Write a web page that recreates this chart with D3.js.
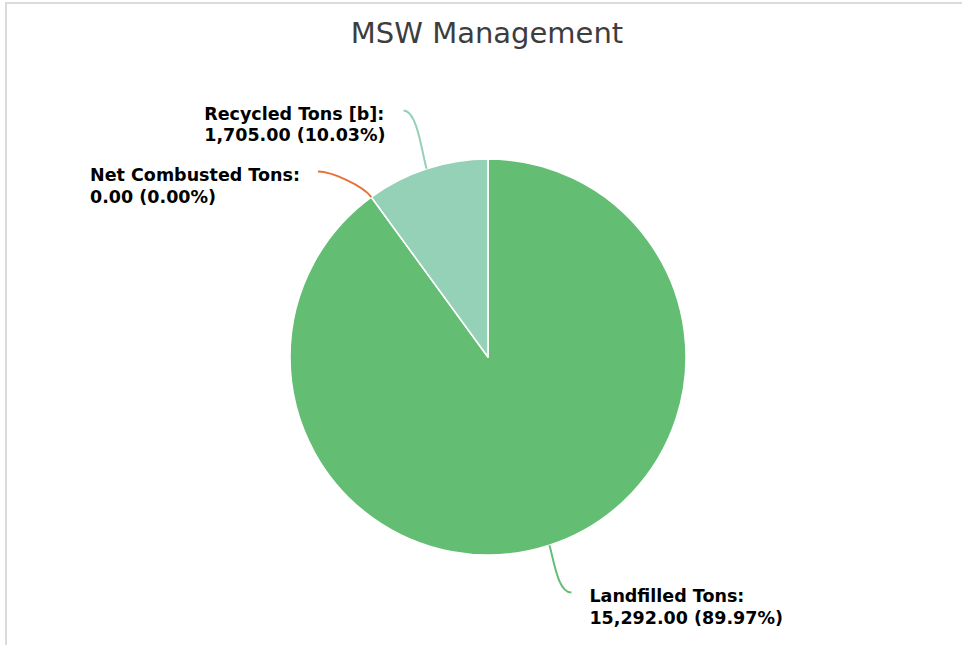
<!DOCTYPE html>
<html>
<head>
<meta charset="utf-8">
<script src="https://cdn.jsdelivr.net/npm/d3@7"></script>
<style>
	body { margin: 0; background: #fff; }
	svg { display: block; }
</style>
</head>
<body>
<svg class="piechart"></svg>
<script>
var categories = ["Landfilled Tons:", "Net Combusted Tons:", "Recycled Tons [b]:"];
var tons = [15292, 0, 1705];
var colors = ["#63be74", "#e8733a", "#95d1b6"];

var width = 962;
var height = 645;
var cx = 488, cy = 357, radius = 198;

// nudges for the end of each leader line (layout only)
var labelNudge = [[5, -5], [-21, 19], [-6, -6]];

var svg = d3.select(".piechart")
	.attr("width", width)
	.attr("height", height);

// frame
svg.append("rect")
	.attr("x", 6)
	.attr("y", 3)
	.attr("width", width + 20)
	.attr("height", height + 20)
	.attr("fill", "none")
	.attr("stroke", "#dadada")
	.attr("stroke-width", 2);

svg.append("text")
	.attr("x", 487)
	.attr("y", 43)
	.attr("text-anchor", "middle")
	.style("font-family", "DejaVu Sans")
	.style("font-size", "29px")
	.attr("fill", "#3d3d3d")
	.text("MSW Management");

var total = d3.sum(tons);
var fmt = d3.format(",.2f");

var pie = d3.pie().sort(null).value(function(d) { return d; });
var arcs = pie(tons);

var arc = d3.arc().innerRadius(0).outerRadius(radius);

var g = svg.append("g").attr("transform", "translate(" + cx + "," + cy + ")");

g.selectAll("path.slice")
	.data(arcs)
	.enter()
	.append("path")
		.attr("class", "slice")
		.attr("d", arc)
		.attr("fill", function(d, i) { return colors[i]; })
		.attr("stroke", "#fff")
		.attr("stroke-width", 1.5)
		.attr("stroke-linejoin", "round");

function midAngle(d) { return (d.startAngle + d.endAngle) / 2; }

arcs.forEach(function(d, i) {
	var a = midAngle(d);
	var dx = Math.sin(a), dy = -Math.cos(a);
	var p0 = [dx * radius, dy * radius];
	var p3 = [dx * (radius + 55) + labelNudge[i][0], dy * (radius + 55) + labelNudge[i][1]];
	var right = dx > 0;
	var p1 = [p0[0] + dx * 14, p0[1] + dy * 14];
	var p2 = [p3[0] + (right ? -14 : 14), p3[1]];

	var path = d3.path();
	path.moveTo(p0[0], p0[1]);
	path.bezierCurveTo(p1[0], p1[1], p2[0], p2[1], p3[0], p3[1]);

	g.append("path")
		.attr("d", path.toString())
		.attr("fill", "none")
		.attr("stroke", colors[i])
		.attr("stroke-width", 2);

	var pct = total ? tons[i] / total * 100 : 0;
	var label = g.append("text")
		.style("font-family", "DejaVu Sans")
		.style("font-weight", "bold")
		.style("font-size", "17.5px")
		.attr("fill", "#000");

	label.append("tspan").attr("x", 0).attr("y", 0).text(categories[i]);
	label.append("tspan").attr("x", 0).attr("y", 21.5)
		.text(fmt(tons[i]) + " (" + pct.toFixed(2) + "%)");

	var w = label.node().getBBox().width;
	var lx = right ? p3[0] + 18 : p3[0] - 18 - w;
	label.attr("transform", "translate(" + lx + "," + (p3[1] + 9.5) + ")");
});
</script>
</body>
</html>
